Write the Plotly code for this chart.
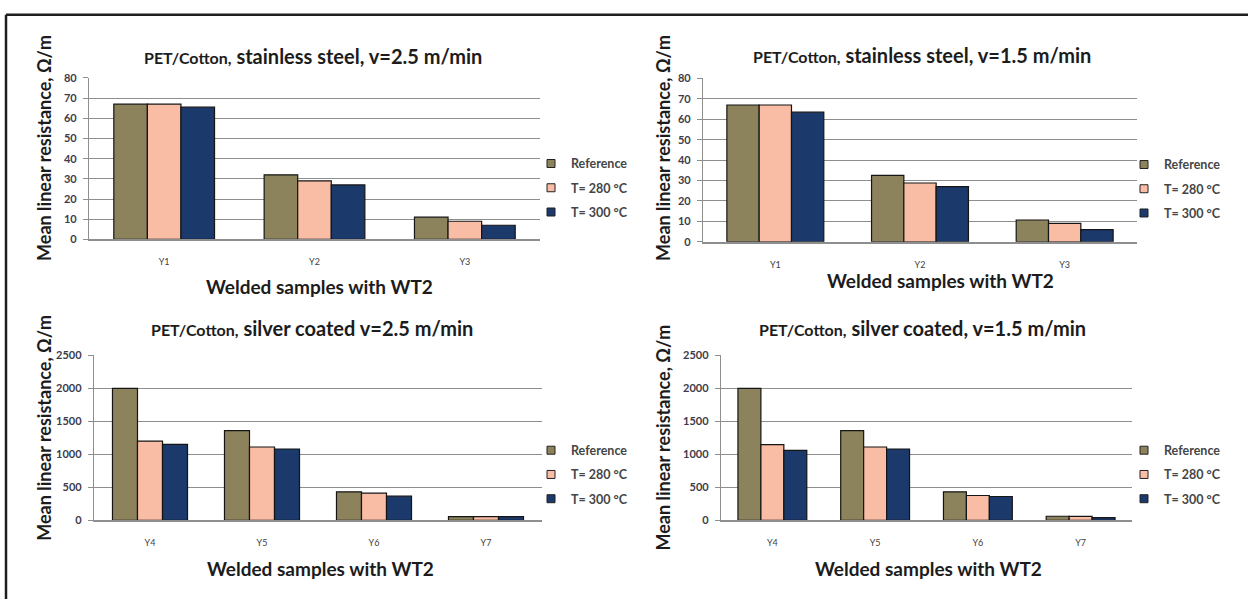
import plotly.graph_objects as go

W, H = 1248, 605

# ---- data -----------------------------------------------------------------
cats_steel = ["Y1", "Y2", "Y3"]
cats_silver = ["Y4", "Y5", "Y6", "Y7"]
series_names = ["Reference", "T= 280 °C", "T= 300 °C"]

steel_v25_ref = [67, 32, 11]
steel_v25_t280 = [67, 29, 9]
steel_v25_t300 = [65.5, 27, 7]

steel_v15_ref = [67, 32.5, 10.7]
steel_v15_t280 = [67, 28.8, 9]
steel_v15_t300 = [63.5, 27, 6]

silver_v25_ref = [2000, 1360, 430, 55]
silver_v25_t280 = [1200, 1110, 410, 55]
silver_v25_t300 = [1150, 1080, 365, 55]

silver_v15_ref = [2000, 1360, 430, 60]
silver_v15_t280 = [1145, 1110, 375, 58]
silver_v15_t300 = [1060, 1080, 360, 40]

steel_ticks = [0, 10, 20, 30, 40, 50, 60, 70, 80]
silver_ticks = [0, 500, 1000, 1500, 2000, 2500]

panel_titles = [
    ("PET/Cotton,", "stainless steel, v=2.5 m/min"),
    ("PET/Cotton,", "stainless steel, v=1.5 m/min"),
    ("PET/Cotton,", "silver coated v=2.5 m/min"),
    ("PET/Cotton,", "silver coated, v=1.5 m/min"),
]
x_title = "Welded samples with WT2"
y_title = "Mean linear resistance, Ω/m"

# ---- styling --------------------------------------------------------------
FONT = "Lato, 'Open Sans', sans-serif"
colors = ["#8c835c", "#f9bca4", "#1b396b"]
grid_c = "#8e8e8e"
text_c = "#1c1c1c"


def fx(px):
    return px / W


def fy(py):
    return 1 - py / H


# plot boxes in pixels: left, right, top, bottom
panels = [
    dict(box=(89, 540, 72.5, 237.5), cats=cats_steel, ticks=steel_ticks,
         series=[steel_v25_ref, steel_v25_t280, steel_v25_t300],
         title_xy=(313, 50), xt_xy=(319, 286), yt_xy=(44, 144),
         leg_xy=(531, 145)),
    dict(box=(703, 1137, 73, 240), cats=cats_steel, ticks=steel_ticks,
         series=[steel_v15_ref, steel_v15_t280, steel_v15_t300],
         title_xy=(922, 49), xt_xy=(940, 279), yt_xy=(663, 144),
         leg_xy=(1124, 146)),
    dict(box=(94, 542, 356, 524.5), cats=cats_silver, ticks=silver_ticks,
         series=[silver_v25_ref, silver_v25_t280, silver_v25_t300],
         title_xy=(312, 328), xt_xy=(320, 574), yt_xy=(44, 430),
         leg_xy=(531, 438)),
    dict(box=(721, 1132, 356, 524.5), cats=cats_silver, ticks=silver_ticks,
         series=[silver_v15_ref, silver_v15_t280, silver_v15_t300],
         title_xy=(922, 328), xt_xy=(928, 574), yt_xy=(663, 440),
         leg_xy=(1124, 438)),
]

fig = go.Figure()
annotations = []
layout_extra = {}

for i, p in enumerate(panels):
    n = i + 1
    xa = "x" if n == 1 else f"x{n}"
    ya = "y" if n == 1 else f"y{n}"
    leg = "legend" if n == 1 else f"legend{n}"
    l, r, t, b = p["box"]

    for s, (vals, name, col) in enumerate(zip(p["series"], series_names, colors)):
        fig.add_trace(go.Bar(
            x=p["cats"], y=vals, name=name, xaxis=xa, yaxis=ya,
            marker=dict(color=col, line=dict(color="#151515", width=1.2)),
            showlegend=False,
        ))
        # legend swatch for this series
        fig.add_trace(go.Scatter(
            x=[None], y=[None], mode="markers", name=name,
            xaxis=xa, yaxis=ya, legend=leg, legendgroup=f"g{n}_{s}",
            marker=dict(symbol="square", size=8, color=col,
                        line=dict(color="#222222", width=1)),
        ))

    layout_extra[("xaxis" if n == 1 else f"xaxis{n}")] = dict(
        domain=[fx(l), fx(r)], anchor=ya, type="category",
        showline=True, linecolor=grid_c, linewidth=2, ticks="",
        showgrid=False, tickfont=dict(family=FONT, size=9, color="#404040"),
        ticklabelstandoff=13, fixedrange=True,
    )
    layout_extra[("yaxis" if n == 1 else f"yaxis{n}")] = dict(
        domain=[fy(b), fy(t)], anchor=xa,
        range=[0, p["ticks"][-1]], tickvals=p["ticks"],
        showline=True, linecolor=grid_c, linewidth=1.3,
        ticks="outside", ticklen=5, tickcolor=grid_c, tickwidth=1.3,
        showgrid=True, gridcolor=grid_c, gridwidth=1.3, zeroline=False,
        tickfont=dict(family=FONT, size=11, color="#3c3c4c", weight="bold"),
        ticklabelstandoff=4, fixedrange=True,
    )
    layout_extra[leg] = dict(
        x=fx(p["leg_xy"][0]), y=fy(p["leg_xy"][1]),
        xanchor="left", yanchor="top", bgcolor="rgba(0,0,0,0)",
        font=dict(family=FONT, size=12.5, color="#454545", weight="bold"),
        traceorder="grouped", tracegroupgap=5, itemclick=False,
    )

    small, big = panel_titles[i]
    annotations.append(dict(
        x=fx(p["title_xy"][0]), y=fy(p["title_xy"][1]), xref="paper", yref="paper",
        text=f"<span style='font-size:16px'>{small}</span> {big}",
        showarrow=False, xanchor="center", yanchor="middle",
        font=dict(family=FONT, size=20, color=text_c, weight="bold"),
    ))
    annotations.append(dict(
        x=fx(p["xt_xy"][0]), y=fy(p["xt_xy"][1]), xref="paper", yref="paper",
        text=x_title, showarrow=False, xanchor="center", yanchor="middle",
        font=dict(family=FONT, size=19, color=text_c, weight="bold"),
    ))
    annotations.append(dict(
        x=fx(p["yt_xy"][0]), y=fy(p["yt_xy"][1]), xref="paper", yref="paper",
        text=y_title, showarrow=False, textangle=-90,
        xanchor="center", yanchor="middle",
        font=dict(family=FONT, size=18, color=text_c, weight="bold"),
    ))

# frame lines along the top and left edges
shapes = [
    dict(type="line", xref="paper", yref="paper", x0=fx(6), x1=1, y0=fy(8), y1=fy(8),
         line=dict(color="#1e1e1e", width=2.5)),
    dict(type="line", xref="paper", yref="paper", x0=fx(6), x1=fx(6), y0=fy(8), y1=0,
         line=dict(color="#1e1e1e", width=2.5)),
]

fig.update_layout(
    width=W, height=H,
    margin=dict(l=0, r=0, t=0, b=0),
    paper_bgcolor="white", plot_bgcolor="white",
    barmode="group", bargap=0.33, bargroupgap=0,
    annotations=annotations, shapes=shapes,
    font=dict(family=FONT),
    **layout_extra,
)

fig.write_html("out.html")
